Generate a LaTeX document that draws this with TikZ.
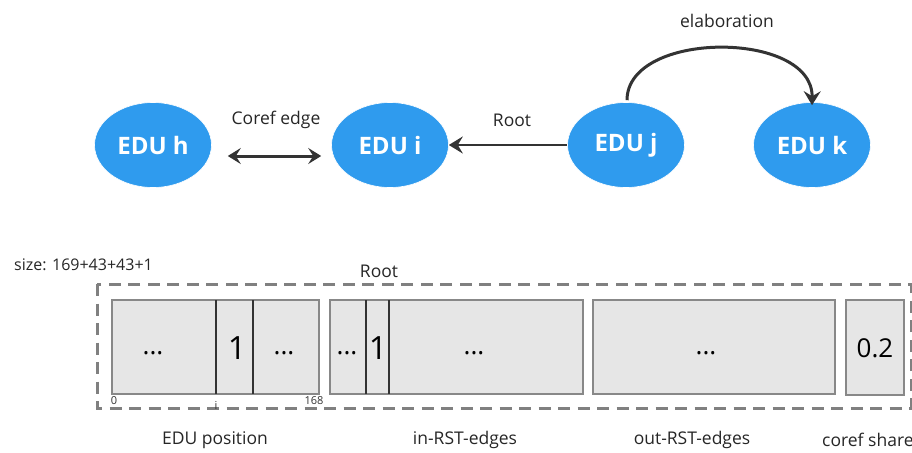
\documentclass[tikz,border=0pt]{standalone}
\usepackage{fontspec}
\setmainfont{Open Sans}
\usetikzlibrary{arrows.meta,shapes.geometric}
\definecolor{edublue}{HTML}{2F9BEE}
\definecolor{arrowdark}{HTML}{333333}
\definecolor{boxfill}{HTML}{E6E6E6}
\definecolor{boxline}{HTML}{888888}
\definecolor{dashgray}{HTML}{808080}
\tikzset{
  edu/.style={ellipse, fill=edublue, draw=white, line width=0.6pt, minimum width=117pt, minimum height=85pt, inner sep=0pt,
    text=white, font=\bfseries\fontsize{24}{27}\selectfont},
  lbl/.style={font=\fontsize{17.5}{20}\selectfont, text=black!85, inner sep=0pt},
  tip/.style={Stealth[length=14pt,width=17pt,inset=5pt]},
  conn/.style={draw=arrowdark, line width=3pt, -{Stealth[length=14pt,width=17pt,inset=5pt]}},
  cell/.style={draw=boxline, fill=boxfill, line width=2.8pt},
  divider/.style={draw=black!80, line width=1.2pt},
  celltext/.style={font=\fontsize{26}{28}\selectfont, inner sep=0pt},
  tiny/.style={font=\fontsize{11}{12}\selectfont, inner sep=0pt, text=black!80},
}
\begin{document}
\begin{tikzpicture}[x=1pt,y=-1pt]
\useasboundingbox (0,0) rectangle (912,452);
% top graph
\node[edu] (h) at (153,145) {EDU h};
\node[edu] (i) at (390,145) {EDU i};
\node[edu] (j) at (626,145) {EDU j};
\node[edu] (k) at (812,145) {EDU k};
\node[lbl] (corefl) at (276,120) {Coref edge};
\node[lbl] (rootl) at (512,120) {Root};
\node[lbl] (elabl) at (727,21) {elaboration};
\draw[conn, {Stealth[length=13pt,width=16pt,inset=5pt]}-{Stealth[length=13pt,width=16pt,inset=5pt]}]
  ([shift={(16,11)}]h.east) -- ([shift={(-10,11)}]i.west);
\draw[conn, line width=2.6pt] (j.west) -- (i.east);
\draw[conn] ([xshift=1pt,yshift=2pt]j.north) .. controls (627,30) and (813,30) .. ([yshift=-3pt]k.north);
% bottom vector
\node[lbl, anchor=west, font=\fontsize{16}{19}\selectfont] (size) at (14,265) {size: 169+43+43+1};
\node[lbl] (rootb) at (379,271) {Root};
\draw[dashgray, line width=3pt, dash pattern=on 12pt off 7.5pt] (97,284) rectangle (911,408);
\draw[cell] (112,300) rectangle (319,394);
\draw[divider] (216,300) -- (216,394);
\draw[divider] (253,300) -- (253,394);
\draw[cell] (330,300) rectangle (583,394);
\draw[divider] (366,300) -- (366,394);
\draw[divider] (389,300) -- (389,394);
\draw[cell] (593,300) rectangle (835,394);
\draw[cell] (846,300) rectangle (904,395);
\node[celltext] (d1) at (153,353) {...};
\node[celltext, font=\fontsize{32}{34}\selectfont] (one1) at (237,348) {1};
\node[celltext] (d2) at (284,353) {...};
\node[celltext] (d3) at (347,353) {...};
\node[celltext, font=\fontsize{32}{34}\selectfont] (one2) at (378,348) {1};
\node[celltext] (d4) at (474,353) {...};
\node[celltext] (d5) at (706,353) {...};
\node[celltext, font=\fontsize{26}{28}\selectfont] (share) at (875,348) {0.2};
\node[tiny] (z0) at (114,401) {0};
\node[tiny] (zi) at (216,405) {i};
\node[tiny] (z168) at (314,401) {168};
\node[lbl] (l1) at (215,440) {EDU position};
\node[lbl] (l2) at (465,440) {in-RST-edges};
\node[lbl] (l3) at (692,440) {out-RST-edges};
\node[lbl, anchor=west] (l4) at (822,440) {coref share};
\end{tikzpicture}
\end{document}
